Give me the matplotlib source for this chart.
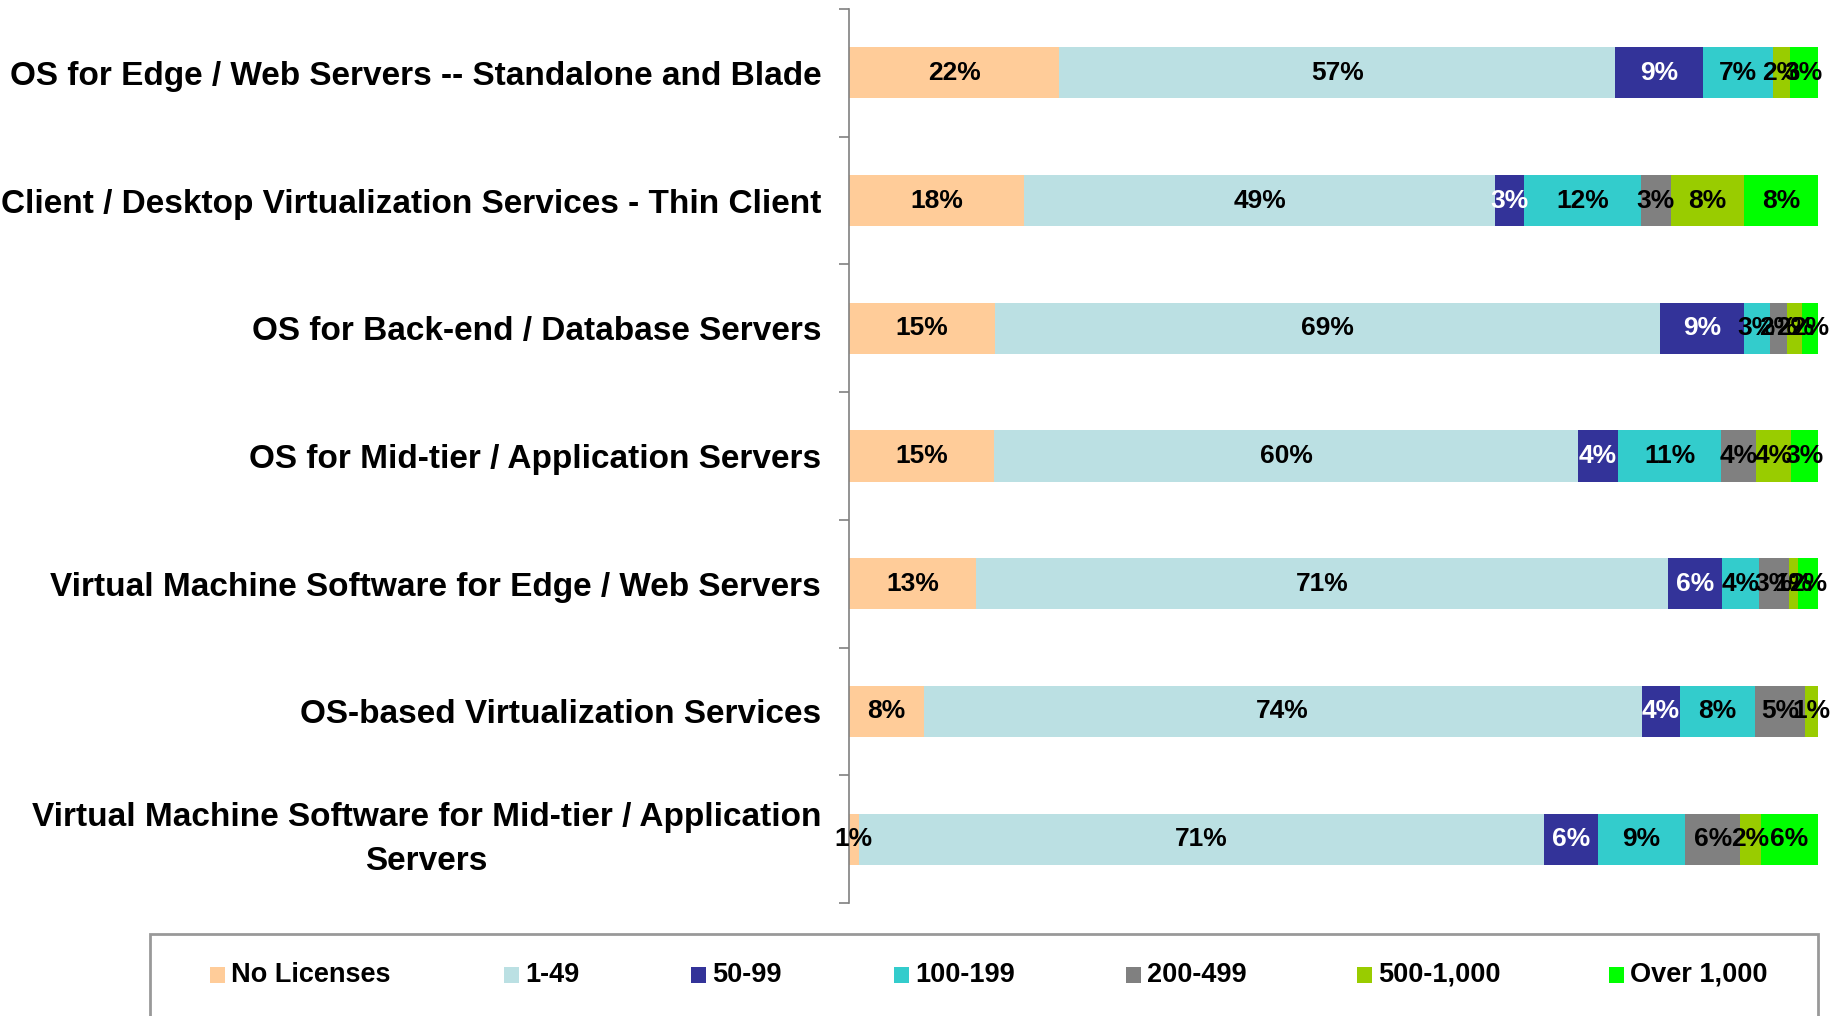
import matplotlib.pyplot as plt
from matplotlib.patches import Rectangle
import numpy as np

plt.rcParams['font.family'] = ['Liberation Sans', 'DejaVu Sans']
plt.rcParams['font.weight'] = 'bold'

categories = [
    "OS for Edge / Web Servers -- Standalone and Blade",
    "Client / Desktop Virtualization Services - Thin Client",
    "OS for Back-end / Database Servers",
    "OS for Mid-tier / Application Servers",
    "Virtual Machine Software for Edge / Web Servers",
    "OS-based Virtualization Services",
    "Virtual Machine Software for Mid-tier / Application\nServers",
]
series_names = ["No Licenses", "1-49", "50-99", "100-199", "200-499", "500-1,000", "Over 1,000"]
colors = ["#FFCC99", "#BBE0E3", "#333399", "#33CCCC", "#808080", "#99CC00", "#00FF00"]
text_colors = ["black", "black", "white", "black", "black", "black", "black"]

# percent of respondents, one list per license band (rows in category order)
no_lic = [21.7, 18.1, 15.1, 15.0, 13.1, 7.7, 1.0]
lic_1_49 = [57.4, 48.6, 68.6, 60.2, 71.4, 74.1, 70.7]
lic_50_99 = [9.0, 3.0, 8.7, 4.2, 5.6, 4.0, 5.6]
lic_100_199 = [7.3, 12.0, 2.6, 10.6, 3.8, 7.7, 9.0]
lic_200_499 = [0, 3.1, 1.8, 3.6, 3.1, 5.2, 5.7]
lic_500_1000 = [1.7, 7.6, 1.6, 3.6, 0.9, 1.3, 2.1]
over_1000 = [2.9, 7.6, 1.7, 2.8, 2.1, 0, 5.9]
series = [no_lic, lic_1_49, lic_50_99, lic_100_199, lic_200_499, lic_500_1000, over_1000]

fig = plt.figure(figsize=(18.31, 10.16), dpi=100)
ax = fig.add_axes([849 / 1831, 1 - 903 / 1016, 969 / 1831, 894 / 1016])

y = np.arange(len(categories))
left = np.zeros(len(categories))
for name, vals, c, tc in zip(series_names, series, colors, text_colors):
    vals = np.array(vals)
    bars = ax.barh(y, vals, left=left, height=0.4, color=c, label=name)
    labels = ["%d%%" % round(v) if v > 0 else "" for v in vals]
    ax.bar_label(bars, labels=labels, label_type="center", color=tc,
                 fontsize=19, fontweight="bold")
    left += vals

ax.set_xlim(0, 100)
ax.set_ylim(len(categories) - 0.5, -0.5)
ax.set_yticks(y)
ax.set_yticklabels(categories, fontsize=24, fontweight="bold",
                   multialignment="center", linespacing=1.55)
# two-line label: center the whole block on the bar
for t in ax.get_yticklabels():
    if "\n" in t.get_text():
        t.set_va("center")
ax.tick_params(axis="y", which="major", length=0, pad=20)
ax.set_yticks(np.arange(-0.5, len(categories)), minor=True)
ax.tick_params(axis="y", which="minor", length=7, color="#808080", width=1.2)
ax.set_xticks([])
for s in ["top", "right", "bottom"]:
    ax.spines[s].set_visible(False)
ax.spines["left"].set_color("#808080")
ax.spines["left"].set_linewidth(1.2)

# legend box, drawn by hand to keep the spreadsheet-style spacing
W, H = 1831, 1016
fig.patches.append(Rectangle((150 / W, -0.01), (1818 - 150) / W, 1 - 934 / H + 0.01,
                             transform=fig.transFigure, facecolor="white",
                             edgecolor="#999999", linewidth=2))
marker_x = [210, 504, 691, 894, 1126, 1357, 1609]
for mx, name, c in zip(marker_x, series_names, colors):
    fig.patches.append(Rectangle((mx / W, 1 - 983 / H), 15 / W, 16 / H,
                                 transform=fig.transFigure, facecolor=c, edgecolor="none"))
    fig.text((mx + 21) / W, 1 - 975 / H, name, fontsize=19.5, fontweight="bold",
             va="center", ha="left")

fig.savefig("out.png", dpi=100)
